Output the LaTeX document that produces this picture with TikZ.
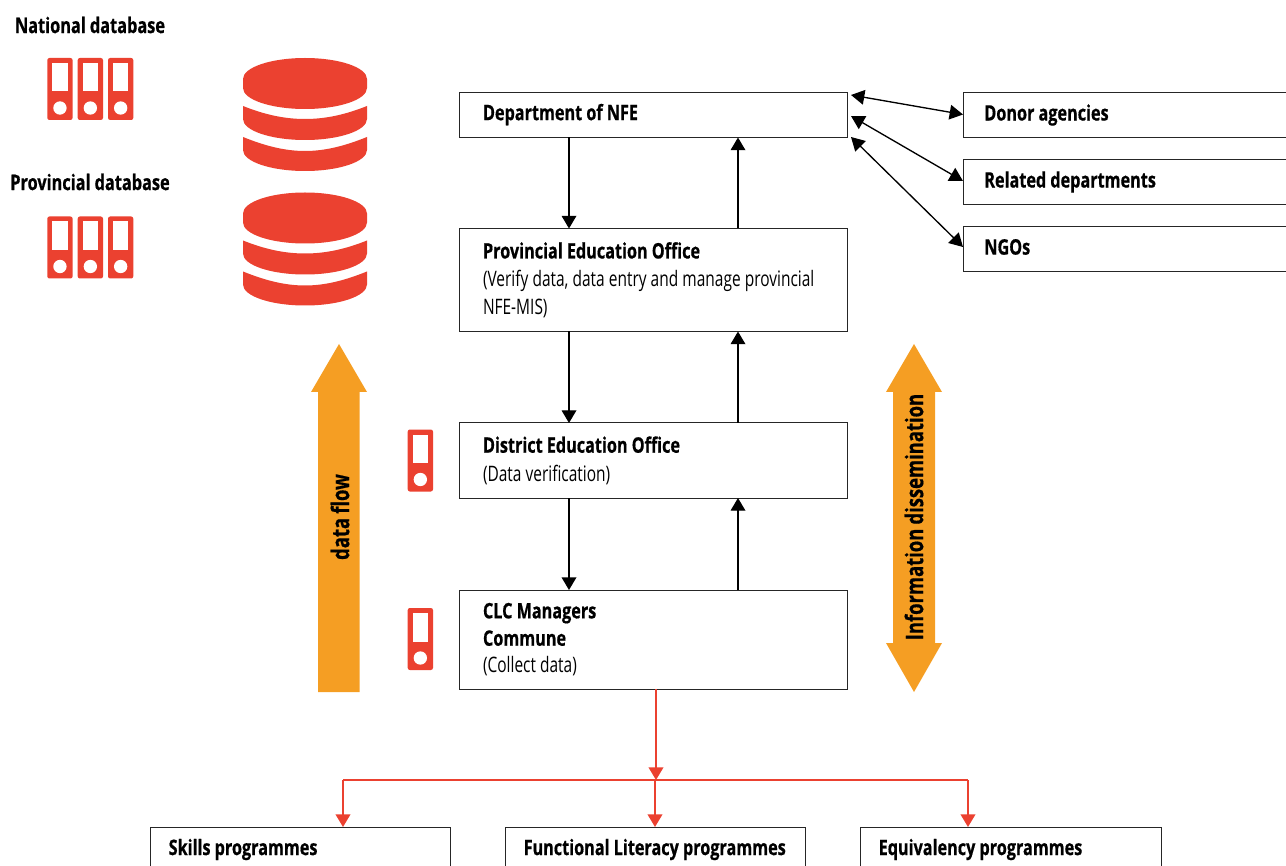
\documentclass[tikz,border=0pt]{standalone}
\usepackage{fontspec}
\setmainfont{Open Sans}[FakeStretch=0.725,BoldFeatures={FakeStretch=0.76,FakeBold=0.6}]
\usetikzlibrary{arrows.meta,calc}
\definecolor{redc}{HTML}{EB4130}
\definecolor{orangec}{HTML}{F59E23}
\newcommand{\bfl}[1]{{\bfseries #1}}
\tikzset{
  x=0.75pt,y=-0.75pt,
  every node/.append style={execute at begin node={\frenchspacing\spaceskip=3.1pt\relax}},
  pbox/.style={draw=black!85,line width=0.75pt,fill=white,anchor=north west,inner ysep=0pt,inner xsep=18pt,outer sep=0pt,align=left,font=\fontsize{16}{21}\selectfont},
  rbox/.style={pbox,inner xsep=16pt},
  sbox/.style={pbox,inner xsep=14pt},
  lab/.style={font=\fontsize{16.1}{18}\selectfont\bfseries,inner sep=0pt},
  vlab/.style={font=\fontsize{18.2}{20}\selectfont\bfseries,inner sep=0pt,rotate=90},
  blk/.style={line width=1pt,black,-{Triangle[length=9.5pt,width=11pt]}},
  blkb/.style={line width=1pt,black,{Triangle[length=10pt,width=11pt]}-{Triangle[length=10pt,width=11pt]}},
  rd/.style={line width=1.3pt,redc,-{Triangle[length=9.5pt,width=11pt]}},
  pics/binder/.style={code={
    \fill[redc,rounded corners=1.6pt] (0,0) rectangle (25.3,62);
    \fill[white] (5,5) rectangle (20.3,33.5);
    \fill[white] (12.65,50) circle[radius=5pt];
  }},
  pics/dbase/.style={code={
    \fill[redc] (0,21) .. controls (0,9.4) and (27.8,0) .. (62,0) .. controls (96.2,0) and (124,9.4) .. (124,21)
      -- (124,30) .. controls (124,41.6) and (96.2,51) .. (62,51) .. controls (27.8,51) and (0,41.6) .. (0,30) -- cycle;
    \fill[redc] (0,48) .. controls (20,56) and (40,61) .. (62,61) .. controls (84,61) and (104,56) .. (124,48)
      -- (124,61) .. controls (124,72.6) and (96.2,82) .. (62,82) .. controls (27.8,82) and (0,72.6) .. (0,61) -- cycle;
    \fill[redc] (0,79) .. controls (20,87) and (40,93) .. (62,93) .. controls (84,93) and (104,87) .. (124,79)
      -- (124,92) .. controls (124,103.6) and (96.2,113) .. (62,113) .. controls (27.8,113) and (0,103.6) .. (0,92) -- cycle;
  }}
}
\begin{document}
\begin{tikzpicture}
\useasboundingbox (0,0) rectangle (1286,866);
\clip (0,0) rectangle (1286,866);

% headings and icons
\node[lab] (natl) at (90,25) {National database};
\node[lab] (prov) at (90,182) {Provincial database};
\foreach \xx in {47.3,77.7,108}{
  \pic at (\xx,58) {binder};
  \pic at (\xx,216.5) {binder};
}
\pic at (407.7,429.5) {binder};
\pic at (407.7,608) {binder};
\pic at (243,58) {dbase};
\pic at (243,192.5) {dbase};

% big orange arrows
\fill[orangec] (339,344) -- (367,392) -- (359.5,392) -- (359.5,692) -- (318,692) -- (318,392) -- (311,392) -- cycle;
\fill[orangec] (914,344) -- (942,392) -- (935,392) -- (935,643) -- (942,643) -- (914,692) -- (886,643) -- (893,643) -- (893,392) -- (886,392) -- cycle;
\node[vlab] (flow) at (340,517) {data flow};
\node[vlab] (diss) at (914,517) {Information dissemination};

% central boxes
\node[pbox,minimum width=291pt,minimum height=33.75pt,text width=255pt] (dept) at (459,92.5) {\raisebox{4.5pt}{\bfl{Department of NFE}}};
\node[pbox,minimum width=291pt,minimum height=77.25pt,text width=255pt] (peo) at (459,228.5) {\bfl{Provincial Education Office}\\(Verify data, data entry and manage provincial\\NFE-MIS)};
\node[pbox,minimum width=291pt,minimum height=56.25pt,text width=255pt] (deo) at (459,423) {\raisebox{2.2pt}{\bfl{District Education Office}}\\\raisebox{1.8pt}{(Data verification)}};
\node[pbox,minimum width=291pt,minimum height=74.25pt,text width=255pt,font=\fontsize{16}{20.25}\selectfont] (clc) at (459,590) {\raisebox{1pt}{\bfl{CLC Managers}}\\\raisebox{.7pt}{\bfl{Commune}}\\\raisebox{.7pt}{(Collect data)}};

% right boxes
\node[rbox,minimum width=245pt,minimum height=33.75pt,text width=213pt] (donor) at (963,92.5) {\raisebox{3.2pt}{\bfl{Donor agencies}}};
\node[rbox,minimum width=245pt,minimum height=33.75pt,text width=213pt] (rel) at (963,159.5) {\raisebox{3.2pt}{\bfl{Related departments}}};
\node[rbox,minimum width=245pt,minimum height=33.75pt,text width=213pt] (ngo) at (963,226.5) {\raisebox{3.2pt}{\bfl{NGOs}}};

% bottom boxes
\node[sbox,minimum width=225pt,minimum height=33.75pt,text width=197pt] (skill) at (150,827) {\bfl{Skills programmes}};
\node[sbox,minimum width=225pt,minimum height=33.75pt,text width=197pt] (lit) at (505,827) {\bfl{Functional Literacy programmes}};
\node[sbox,minimum width=226pt,minimum height=33.75pt,text width=198pt] (equiv) at (860,827) {\bfl{Equivalency programmes}};

% vertical connectors
\coordinate (cd) at (569,0);
\coordinate (cu) at (738,0);
\draw[blk] (cd |- dept.south) -- (cd |- peo.north);
\draw[blk] (cd |- peo.south) -- (cd |- deo.north);
\draw[blk] (cd |- deo.south) -- (cd |- clc.north);
\draw[blk] (cu |- clc.north) -- (cu |- deo.south);
\draw[blk] (cu |- deo.north) -- (cu |- peo.south);
\draw[blk] (cu |- peo.north) -- (cu |- dept.south);

% external links
\coordinate (e1) at (851,95);
\coordinate (e2) at (851,116);
\coordinate (e3) at (851,137);
\coordinate (t1) at (963,114.5);
\coordinate (t2) at (963,181);
\coordinate (t3) at (963,247);
\draw[blkb] (e1) -- (t1);
\draw[blkb] (e2) -- (t2);
\draw[blkb] (e3) -- (t3);

% red tree
\coordinate (bus) at (656,780);
\coordinate (lx) at (343,780);
\coordinate (mx) at (655,780);
\coordinate (rx) at (968,780);
\draw[rd] (bus |- clc.south) -- (bus);
\draw[line width=1.5pt,redc] (lx) -- (rx);
\draw[rd] (lx) -- (lx |- skill.north);
\draw[rd] (mx) -- (mx |- lit.north);
\draw[rd] (rx) -- (rx |- equiv.north);
\end{tikzpicture}
\end{document}
